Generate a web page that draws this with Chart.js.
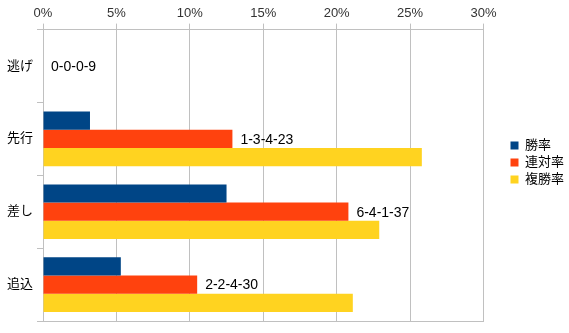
<!DOCTYPE html>
<html lang="ja">
<head>
    <meta charset="UTF-8">
    <title>脚質別成績</title>
    <script src="https://cdn.jsdelivr.net/npm/chart.js"></script>
    <style>
        body {
            margin: 0;
            background-color: #ffffff;
        }
    </style>
</head>
<body>
    <canvas id="chart" width="569" height="333"></canvas>

    <script>
        const categories = ['逃げ', '先行', '差し', '追込'];
        const winRate = [0, 3.2, 12.5, 5.3];
        const quinellaRate = [0, 12.9, 20.8, 10.5];
        const showRate = [0, 25.8, 22.9, 21.1];
        const records = ['0-0-0-9', '1-3-4-23', '6-4-1-37', '2-2-4-30'];
        const xTicks = [0, 5, 10, 15, 20, 25, 30];

        const fontFamily = '"Liberation Sans", "Noto Sans CJK JP", sans-serif';
        const gridColor = '#c0c0c0';
        const legendGap = 18;
        const legendNudge = 5;

        // draw the win-place record next to the 連対率 bar
        const recordLabels = {
            id: 'recordLabels',
            afterDatasetsDraw(chart) {
                const ctx = chart.ctx;
                const meta = chart.getDatasetMeta(1);
                ctx.save();
                ctx.font = '14px ' + fontFamily;
                ctx.fillStyle = '#000000';
                ctx.textBaseline = 'middle';
                ctx.textAlign = 'left';
                meta.data.forEach((bar, i) => {
                    ctx.fillText(records[i], bar.x + 8, bar.y + 1);
                });
                ctx.restore();
            }
        };

        // leave some empty space between the plot and the legend
        const legendMargin = {
            id: 'legendMargin',
            beforeLayout(chart) {
                const legend = chart.legend;
                if (!legend || legend._wrapped) return;
                const fit = legend.fit;
                legend.fit = function () {
                    fit.call(this);
                    this.width += legendGap;
                };
                legend._wrapped = true;
            },
            afterLayout(chart) {
                if (chart.legend) chart.legend.left += legendGap + legendNudge;
            }
        };

        new Chart(document.getElementById('chart'), {
            type: 'bar',
            data: {
                labels: categories,
                datasets: [
                    { label: '勝率', data: winRate, backgroundColor: '#004586' },
                    { label: '連対率', data: quinellaRate, backgroundColor: '#ff420e' },
                    { label: '複勝率', data: showRate, backgroundColor: '#ffd320' }
                ]
            },
            options: {
                indexAxis: 'y',
                responsive: false,
                animation: false,
                layout: {
                    padding: { top: 4, left: 3, right: 0, bottom: 12 }
                },
                datasets: {
                    bar: {
                        barPercentage: 1,
                        categoryPercentage: 0.75
                    }
                },
                plugins: {
                    legend: {
                        position: 'right',
                        labels: {
                            boxWidth: 8,
                            boxHeight: 8,
                            padding: 4,
                            color: '#000000',
                            font: { family: fontFamily, size: 13 }
                        }
                    },
                    tooltip: { enabled: false }
                },
                scales: {
                    x: {
                        position: 'top',
                        min: 0,
                        max: 30,
                        afterBuildTicks(scale) {
                            scale.ticks = xTicks.map(v => ({ value: v }));
                        },
                        ticks: {
                            padding: 2,
                            color: '#333333',
                            font: { family: fontFamily, size: 13 },
                            callback: v => v + '%'
                        },
                        grid: {
                            color: gridColor,
                            tickLength: 6
                        },
                        border: { color: gridColor }
                    },
                    x2: {
                        position: 'bottom',
                        min: 0,
                        max: 30,
                        ticks: { display: false },
                        grid: { drawOnChartArea: false, drawTicks: false },
                        border: { color: gridColor }
                    },
                    y: {
                        ticks: {
                            padding: 4,
                            color: '#000000',
                            font: { family: fontFamily, size: 13 }
                        },
                        grid: {
                            color: gridColor,
                            drawOnChartArea: false,
                            tickLength: 6
                        },
                        border: { color: gridColor }
                    }
                }
            },
            plugins: [recordLabels, legendMargin]
        });
    </script>
</body>
</html>
